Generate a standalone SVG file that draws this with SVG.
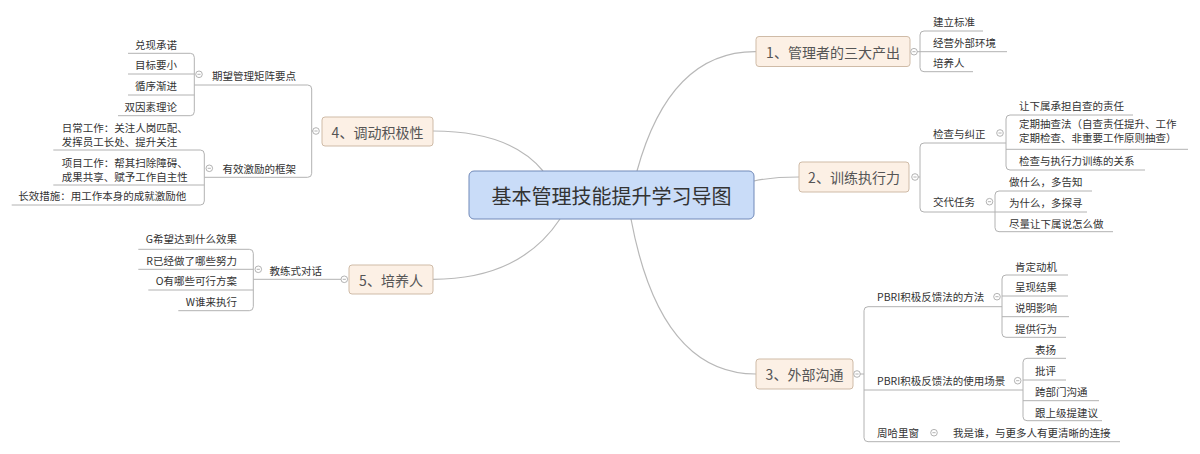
<svg xmlns="http://www.w3.org/2000/svg" width="1200" height="454" viewBox="0 0 1200 454">
<style>
.ln{fill:none;stroke:#b2b2b2;stroke-width:1}
.cv{fill:none;stroke:#b8b8b8;stroke-width:1.2}
.t{font-family:"Noto Sans CJK SC","Noto Sans",sans-serif;font-size:10.5px;fill:#333;dominant-baseline:central}
.e{text-anchor:end}
.m{font-family:"Noto Sans CJK SC","Noto Sans",sans-serif;font-size:14px;fill:#555;text-anchor:middle;dominant-baseline:central}
.mb{fill:#fcf0e5;stroke:#cfbba7;stroke-width:1}
.tg{fill:#fff;stroke:#a0a0a0;stroke-width:0.8}
.tm{stroke:#a0a0a0;stroke-width:0.8}
</style>
<defs>
<g id="tog"><circle class="tg" r="3.3"/><path class="tm" d="M-1.6,0H1.6"/></g>
</defs>
<rect width="1200" height="454" fill="#fff"/>
<g id="connectors">
<path class="cv" d="M637,171 Q670,51 756,51.7"/>
<path class="cv" d="M754,181 Q772,177 799,177"/>
<path class="cv" d="M631,219 Q660,374 756,374"/>
<path class="cv" d="M543,171 Q510,131 433,131"/>
<path class="cv" d="M560,219 Q520,279.3 433,279.3"/>
<path class="ln" d="M983,31 H924 Q920,31 920,35 V67.7 Q920,71.7 924,71.7 H973 M920,51.7 H1007 M914,51.7 H920"/>
<path class="ln" d="M1006,143 H924 Q920,143 920,147 V208 Q920,212 924,212 H995 M915,177 H920"/>
<path class="ln" d="M1133,115 H1010 Q1006,115 1006,119 V166 Q1006,170 1010,170 H1145 M1006,149.3 H1188"/>
<path class="ln" d="M1092,191 H999 Q995,191 995,195 V227.7 Q995,231.7 999,231.7 H1113 M995,212 H1087"/>
<path class="ln" d="M1002,306.7 H868 Q864,306.7 864,310.7 V437.7 Q864,441.7 868,441.7 H1120 M864,390 H1023 M857,374 H864"/>
<path class="ln" d="M1068,275 H1006 Q1002,275 1002,279 V333.3 Q1002,337.3 1006,337.3 H1066 M1002,296 H1068 M1002,316.7 H1069"/>
<path class="ln" d="M1066,358.3 H1027 Q1023,358.3 1023,362.3 V416.7 Q1023,420.7 1027,420.7 H1102 M1023,380 H1066 M1023,400.7 H1099"/>
<path class="ln" d="M194.3,85 H307.7 Q311.7,85 311.7,89 V173.3 Q311.7,177.3 307.7,177.3 H204.3 M311.7,131 H316"/>
<path class="ln" d="M128,53.3 H190.3 Q194.3,53.3 194.3,57.3 V111.7 Q194.3,115.7 190.3,115.7 H118 M194.3,74 H128 M194.3,95 H128"/>
<path class="ln" d="M53.3,150 H200.3 Q204.3,150 204.3,154 V201 Q204.3,205 200.3,205 H11.7 M204.3,185 H53.3"/>
<path class="ln" d="M344,279.3 H253.3"/>
<path class="ln" d="M138.3,249.3 H249.3 Q253.3,249.3 253.3,253.3 V306.7 Q253.3,310.7 249.3,310.7 H178.3 M253.3,269.3 H138.3 M253.3,290 H148.3"/>
</g>
<g id="center">
<rect x="469" y="171" width="285" height="48" rx="5" fill="#c9dcf8" stroke="#7189b8" stroke-width="1"/>
<text x="611.5" y="195" style="font-family:'Noto Sans CJK SC','Noto Sans',sans-serif;font-size:20px;fill:#333;text-anchor:middle;dominant-baseline:central">基本管理技能提升学习导图</text>
</g>
<g id="n1">
<rect class="mb" x="756" y="36.5" width="154" height="30" rx="3"/>
<text class="m" x="833" y="51.5">1、管理者的三大产出</text>
<use href="#tog" x="914" y="51.7"/>
<text class="t" x="933" y="21.7">建立标准</text>
<text class="t" x="933" y="42.7">经营外部环境</text>
<text class="t" x="933" y="62.3">培养人</text>
</g>
<g id="n2">
<rect class="mb" x="799" y="162" width="110" height="30" rx="3"/>
<text class="m" x="854" y="177">2、训练执行力</text>
<use href="#tog" x="915" y="177"/>
<g id="n2a">
<text class="t" x="933" y="133">检查与纠正</text>
<use href="#tog" x="1000" y="133"/>
<text class="t" x="1019" y="105">让下属承担自查的责任</text>
<text class="t" x="1019" y="123.5">定期抽查法（自查责任提升、工作</text>
<text class="t" x="1019" y="137.8">定期检查、非重要工作原则抽查）</text>
<text class="t" x="1019" y="160.7">检查与执行力训练的关系</text>
</g>
<g id="n2b">
<text class="t" x="933" y="201.7">交代任务</text>
<use href="#tog" x="989.5" y="201.7"/>
<text class="t" x="1009" y="181.7">做什么，多告知</text>
<text class="t" x="1009" y="202.7">为什么，多探寻</text>
<text class="t" x="1009" y="223">尽量让下属说怎么做</text>
</g>
</g>
<g id="n3">
<rect class="mb" x="756" y="359" width="97" height="30" rx="3"/>
<text class="m" x="804.5" y="374">3、外部沟通</text>
<use href="#tog" x="857" y="374"/>
<g id="n3a">
<text class="t" x="877" y="296.7">PBRI积极反馈法的方法</text>
<use href="#tog" x="997" y="296.7"/>
<text class="t" x="1015" y="266">肯定动机</text>
<text class="t" x="1015" y="286.7">呈现结果</text>
<text class="t" x="1015" y="307.3">说明影响</text>
<text class="t" x="1015" y="328.3">提供行为</text>
</g>
<g id="n3b">
<text class="t" x="877" y="380.7">PBRI积极反馈法的使用场景</text>
<use href="#tog" x="1017.7" y="380.7"/>
<text class="t" x="1035" y="349.3">表扬</text>
<text class="t" x="1035" y="370.7">批评</text>
<text class="t" x="1035" y="391.7">跨部门沟通</text>
<text class="t" x="1035" y="412.7">跟上级提建议</text>
</g>
<g id="n3c">
<text class="t" x="877" y="432.7">周哈里窗</text>
<use href="#tog" x="934" y="432.7"/>
<text class="t" x="953" y="432.7">我是谁，与更多人有更清晰的连接</text>
</g>
</g>
<g id="n4">
<rect class="mb" x="322" y="117" width="111" height="29" rx="3"/>
<text class="m" x="377.5" y="131.5">4、调动积极性</text>
<use href="#tog" x="316" y="131"/>
<g id="n4a">
<text class="t e" x="296" y="75">期望管理矩阵要点</text>
<use href="#tog" x="199" y="74.3"/>
<text class="t e" x="177" y="44.3">兑现承诺</text>
<text class="t e" x="177" y="64.3">目标要小</text>
<text class="t e" x="177" y="85">循序渐进</text>
<text class="t e" x="177" y="106.7">双因素理论</text>
</g>
<g id="n4b">
<text class="t e" x="296" y="168.3">有效激励的框架</text>
<use href="#tog" x="209.3" y="168.3"/>
<text class="t" x="61.7" y="127.8">日常工作：关注人岗匹配、</text>
<text class="t" x="61.7" y="141.5">发挥员工长处、提升关注</text>
<text class="t" x="61.7" y="162.2">项目工作：帮其扫除障碍、</text>
<text class="t" x="61.7" y="176">成果共享、赋予工作自主性</text>
<text class="t" x="18.3" y="195.7">长效措施：用工作本身的成就激励他</text>
</g>
</g>
<g id="n5">
<rect class="mb" x="349" y="265" width="84" height="29" rx="3"/>
<text class="m" x="391" y="279.5">5、培养人</text>
<use href="#tog" x="344.3" y="279.3"/>
<g id="n5a">
<text class="t e" x="322" y="270">教练式对话</text>
<use href="#tog" x="258.3" y="269.3"/>
<text class="t e" x="237" y="238.3">G希望达到什么效果</text>
<text class="t e" x="237" y="260">R已经做了哪些努力</text>
<text class="t e" x="237" y="280.7">O有哪些可行方案</text>
<text class="t e" x="237" y="301">W谁来执行</text>
</g>
</g>
</svg>
